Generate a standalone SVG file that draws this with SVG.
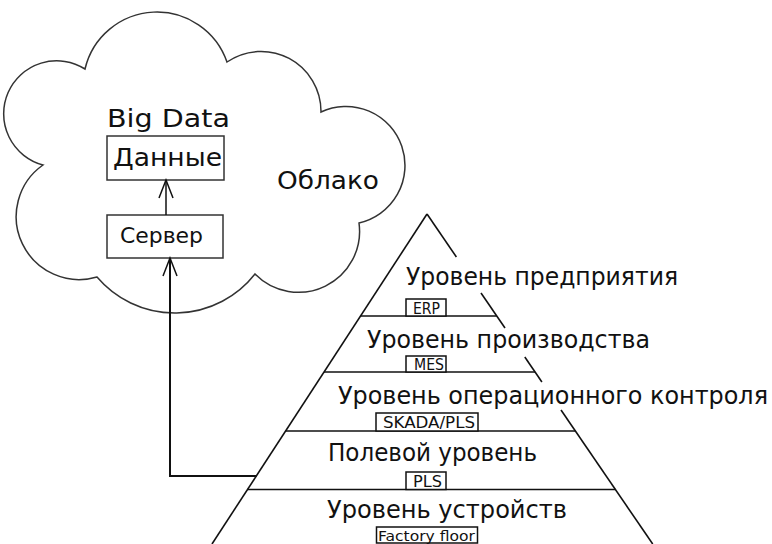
<svg xmlns="http://www.w3.org/2000/svg" width="772" height="544" viewBox="0 0 772 544">
<defs>
<style>
.t{font-family:"DejaVu Sans","Liberation Sans",sans-serif;fill:#111;}
.big{font-size:25px;}
.lvl{font-size:24px;}
.sm{font-family:"DejaVu Sans","Liberation Sans",sans-serif;font-size:15px;fill:#111;}
.box{fill:#fff;stroke:#333;stroke-width:1.5;}
.sbox{fill:#fff;stroke:#111;stroke-width:1.5;}
.ln{stroke:#111;stroke-width:1.6;fill:none;}
.cloud{fill:#fff;stroke:#333;stroke-width:1.5;}
.conn{stroke:#111;fill:none;}
</style>
<marker id="open" viewBox="-20 -10 22 20" markerWidth="22" markerHeight="20" refX="0" refY="0" orient="auto" markerUnits="userSpaceOnUse">
<path d="M-18,-7 L0,0 L-18,7" fill="none" stroke="#111" stroke-width="1.5"/>
</marker>
</defs>
<rect width="772" height="544" fill="#fff"/>

<g id="cloud">
<path class="cloud" d="M85,69 A74,74 0 0 1 227,62 A60,60 0 0 1 321,112 A59,59 0 1 1 359,223 A61,61 0 0 1 255,274 A102,102 0 0 1 97,277 A63,63 0 0 1 43,165 A53,53 0 1 1 85,69 Z"/>
<text class="t big" x="277" y="189" textLength="102" lengthAdjust="spacingAndGlyphs">Облако</text>
</g>

<g id="bigdata">
<text class="t big" x="107" y="127" textLength="123" lengthAdjust="spacingAndGlyphs">Big Data</text>
</g>

<g id="data">
<rect class="box" x="107" y="136" width="117" height="44"/>
<text class="t big" x="113" y="166" textLength="109" lengthAdjust="spacingAndGlyphs">Данные</text>
</g>

<g id="server">
<rect class="box" x="107" y="215" width="116" height="43"/>
<text class="t" style="font-size:22px" x="120" y="243" textLength="83" lengthAdjust="spacingAndGlyphs">Сервер</text>
</g>

<g id="pyramid">
<line class="ln" x1="427" y1="214" x2="212" y2="544"/>
<line class="ln" x1="427" y1="214" x2="456.4" y2="257"/>
<line class="ln" x1="481" y1="293" x2="505" y2="328"/>
<line class="ln" x1="524.8" y1="357" x2="541.9" y2="382"/>
<line class="ln" x1="561" y1="410" x2="652.7" y2="544"/>
<line class="ln" x1="360.5" y1="316" x2="496.8" y2="316"/>
<line class="ln" x1="324" y1="372" x2="535.1" y2="372"/>
<line class="ln" x1="285.5" y1="431" x2="575.4" y2="431"/>
<line class="ln" x1="247.4" y1="489.5" x2="615.4" y2="489.5"/>
</g>

<g id="level-enterprise">
<text class="t lvl" x="406" y="285" textLength="272" lengthAdjust="spacingAndGlyphs">Уровень предприятия</text>
<rect class="sbox" x="406" y="299" width="40" height="17"/>
<text class="sm" x="413" y="313.5" textLength="27" lengthAdjust="spacingAndGlyphs">ERP</text>
</g>

<g id="level-production">
<text class="t lvl" x="367" y="348" textLength="283" lengthAdjust="spacingAndGlyphs">Уровень производства</text>
<rect class="sbox" x="406" y="356" width="40" height="16"/>
<text class="sm" x="414" y="370" textLength="30" lengthAdjust="spacingAndGlyphs">MES</text>
</g>

<g id="level-operational">
<text class="t lvl" x="338" y="404" textLength="430" lengthAdjust="spacingAndGlyphs">Уровень операционного контроля</text>
<rect class="sbox" x="376" y="413" width="102" height="18"/>
<text class="sm" x="383" y="428" textLength="92" lengthAdjust="spacingAndGlyphs">SKADA/PLS</text>
</g>

<g id="level-field">
<text class="t lvl" x="328" y="461" textLength="209" lengthAdjust="spacingAndGlyphs">Полевой уровень</text>
<rect class="sbox" x="406" y="472" width="40" height="17.5"/>
<text class="sm" x="413" y="487" textLength="29" lengthAdjust="spacingAndGlyphs">PLS</text>
</g>

<g id="level-devices">
<text class="t lvl" x="327" y="518" textLength="240" lengthAdjust="spacingAndGlyphs">Уровень устройств</text>
<rect class="sbox" x="376.5" y="527" width="101" height="16"/>
<text class="sm" style="font-size:14px" x="378" y="540.5" textLength="97" lengthAdjust="spacingAndGlyphs">Factory floor</text>
</g>

<g id="connectors">
<line class="conn" stroke-width="1.5" x1="166" y1="215" x2="166" y2="180" marker-end="url(#open)"/>
<polyline class="conn" stroke-width="2" points="256.5,476 170,476 170,258" marker-end="url(#open)"/>
</g>
</svg>
